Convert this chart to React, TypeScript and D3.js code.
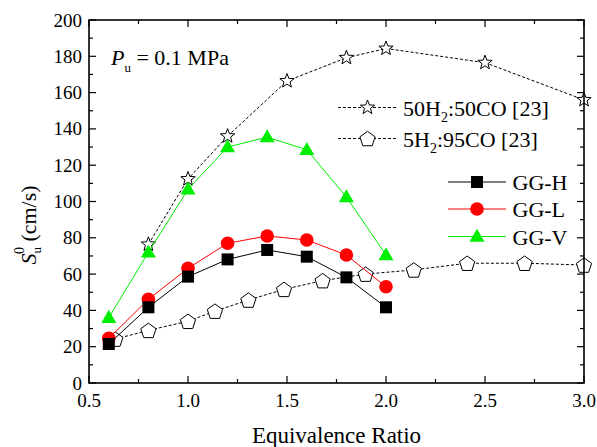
import React from "react";
import * as d3 from "d3";

const xTicks = [0.5, 1.0, 1.5, 2.0, 2.5, 3.0];
const yTicks = [0, 20, 40, 60, 80, 100, 120, 140, 160, 180, 200];

const h50x = [0.8, 1.0, 1.2, 1.5, 1.8, 2.0, 2.5, 3.0];
const h50y = [76.4, 112.4, 136, 166.4, 179.2, 184.3, 176.5, 156];

const h5x = [0.633, 0.8, 1.0, 1.136, 1.305, 1.485, 1.68, 1.897, 2.14, 2.41, 2.7, 3.0];
const h5y = [24.2, 29, 34, 39.6, 45.7, 51.6, 56.4, 60, 62.3, 66, 66, 65];

const ggX = [0.6, 0.8, 1.0, 1.2, 1.4, 1.6, 1.8, 2.0];
const ggH = [21.5, 41.7, 58.6, 68.1, 73.3, 69.6, 58.2, 41.7];
const ggL = [24.6, 46.1, 63.2, 77, 81, 78.8, 70.5, 53];
const ggV = [36, 72, 106.7, 130, 135.5, 128.5, 102.5, 70.5];

const SERIF = "Liberation Serif";

function starPath(cx: number, cy: number, R: number) {
  const r = R * 0.42;
  const pts: string[] = [];
  for (let i = 0; i < 10; i++) {
    const a = -Math.PI / 2 + (i * Math.PI) / 5;
    const rr = i % 2 === 0 ? R : r;
    pts.push(`${cx + rr * Math.cos(a)},${cy + rr * Math.sin(a)}`);
  }
  return "M" + pts.join("L") + "Z";
}
function pentPath(cx: number, cy: number, R: number) {
  const pts: string[] = [];
  for (let i = 0; i < 5; i++) {
    const a = -Math.PI / 2 + (i * 2 * Math.PI) / 5;
    pts.push(`${cx + R * Math.cos(a)},${cy + R * Math.sin(a) + 0.8}`);
  }
  return "M" + pts.join("L") + "Z";
}
function triPath(cx: number, cy: number, w: number) {
  const h = w * 0.87;
  return `M${cx},${cy - h * 0.6}L${cx + w / 2},${cy + h * 0.4}L${cx - w / 2},${cy + h * 0.4}Z`;
}

type Kind = "square" | "circle" | "tri" | "star" | "pent";
function Marker({ kind, cx, cy, color }: { kind: Kind; cx: number; cy: number; color: string }) {
  if (kind === "square") return <rect x={cx - 6} y={cy - 6} width={12} height={12} fill={color} />;
  if (kind === "circle") return <circle cx={cx} cy={cy} r={6.8} fill={color} />;
  if (kind === "tri") return <path d={triPath(cx, cy, 15)} fill={color} />;
  if (kind === "star") return <path d={starPath(cx, cy, 7.5)} fill="white" stroke="black" strokeWidth={1} />;
  return <path d={pentPath(cx, cy, 8)} fill="white" stroke="black" strokeWidth={1} />;
}

function T(props: any) {
  const { children, ...rest } = props;
  return (
    <text {...rest} fontFamily={SERIF} style={{ fontFamily: SERIF }}>
      {children}
    </text>
  );
}

export default function App() {
  const L = 89, R = 584, Tp = 20, B = 383;
  const x = d3.scaleLinear().domain([0.5, 3]).range([L, R]);
  const y = d3.scaleLinear().domain([0, 200]).range([B, Tp]);
  const line = d3.line<[number, number]>().x((d) => x(d[0])).y((d) => y(d[1]));

  const series: { xs: number[]; ys: number[]; color: string; kind: Kind; dash?: string }[] = [
    { xs: h5x, ys: h5y, color: "black", kind: "pent", dash: "3,2" },
    { xs: h50x, ys: h50y, color: "black", kind: "star", dash: "3,2" },
    { xs: ggX, ys: ggV, color: "#00ee00", kind: "tri" },
    { xs: ggX, ys: ggL, color: "#ff0000", kind: "circle" },
    { xs: ggX, ys: ggH, color: "black", kind: "square" },
  ];

  const xMinor = d3.range(0.75, 3.0, 0.5);
  const yMinor = d3.range(10, 200, 20);

  const legend1 = [
    { y: 107.5, kind: "star" as Kind, label: ["50H", "2", ":50CO [23]"] },
    { y: 138.5, kind: "pent" as Kind, label: ["5H", "2", ":95CO [23]"] },
  ];
  const legend2 = [
    { y: 182, kind: "square" as Kind, color: "black", label: "GG-H" },
    { y: 209, kind: "circle" as Kind, color: "#ff0000", label: "GG-L" },
    { y: 236.5, kind: "tri" as Kind, color: "#00ee00", label: "GG-V" },
  ];

  return (
    <svg width={597} height={447} style={{ position: "absolute", left: 0, top: 0, background: "white" }}>
      <rect width={597} height={447} fill="white" />
      {series.map((s, i) => (
        <g key={i}>
          <path
            d={line(s.xs.map((v, j) => [v, s.ys[j]]) as [number, number][]) || ""}
            fill="none"
            stroke={s.color}
            strokeWidth={1}
            strokeDasharray={s.dash}
          />
          {s.xs.map((v, j) => (
            <Marker key={j} kind={s.kind} cx={x(v)} cy={y(s.ys[j])} color={s.color} />
          ))}
        </g>
      ))}
      <rect x={L} y={Tp} width={R - L} height={B - Tp} fill="none" stroke="black" strokeWidth={1.6} />
      {xTicks.map((t) => (
        <g key={"x" + t}>
          <line x1={x(t)} x2={x(t)} y1={B} y2={B - 7} stroke="black" strokeWidth={1.2} />
          <line x1={x(t)} x2={x(t)} y1={Tp} y2={Tp + 7} stroke="black" strokeWidth={1.2} />
          <T x={x(t)} y={407} textAnchor="middle" fontSize={19}>
            {t.toFixed(1)}
          </T>
        </g>
      ))}
      {xMinor.map((t) => (
        <g key={"xm" + t}>
          <line x1={x(t)} x2={x(t)} y1={B} y2={B - 4} stroke="black" strokeWidth={1.2} />
          <line x1={x(t)} x2={x(t)} y1={Tp} y2={Tp + 4} stroke="black" strokeWidth={1.2} />
        </g>
      ))}
      {yTicks.map((t) => (
        <g key={"y" + t}>
          <line x1={L} x2={L + 7} y1={y(t)} y2={y(t)} stroke="black" strokeWidth={1.2} />
          <line x1={R} x2={R - 7} y1={y(t)} y2={y(t)} stroke="black" strokeWidth={1.2} />
          <T x={82} y={y(t) + 6.5} textAnchor="end" fontSize={19}>
            {t}
          </T>
        </g>
      ))}
      {yMinor.map((t) => (
        <g key={"ym" + t}>
          <line x1={L} x2={L + 4} y1={y(t)} y2={y(t)} stroke="black" strokeWidth={1.2} />
          <line x1={R} x2={R - 4} y1={y(t)} y2={y(t)} stroke="black" strokeWidth={1.2} />
        </g>
      ))}
      <T x={336.5} y={443} textAnchor="middle" fontSize={23}>
        Equivalence Ratio
      </T>
      <g transform="translate(36,225) rotate(-90)">
        <T x={0} y={0} textAnchor="middle" fontSize={22}>
          <tspan fontStyle="italic">S</tspan>
          <tspan fontSize={13} dy={5}>u</tspan>
          <tspan fontSize={14} dx={-7} dy={-17}>0</tspan>
          <tspan dy={12}> (cm/s)</tspan>
        </T>
      </g>
      <T x={111} y={65} fontSize={22}>
        <tspan fontStyle="italic">P</tspan>
        <tspan fontSize={13} dy={7}>u</tspan>
        <tspan dy={-7}> = 0.1 MPa</tspan>
      </T>
      {legend1.map((l, i) => (
        <g key={"l1" + i}>
          <line x1={338} x2={396} y1={l.y} y2={l.y} stroke="black" strokeWidth={1} strokeDasharray="3,2" />
          <Marker kind={l.kind} cx={367.5} cy={l.y} color="black" />
          <T x={403} y={l.y + 8} fontSize={22}>
            {l.label[0]}
            <tspan fontSize={14} dy={6}>{l.label[1]}</tspan>
            <tspan dy={-6}>{l.label[2]}</tspan>
          </T>
        </g>
      ))}
      {legend2.map((l, i) => (
        <g key={"l2" + i}>
          <line x1={448} x2={506} y1={l.y} y2={l.y} stroke={l.color} strokeWidth={1} />
          <Marker kind={l.kind} cx={477} cy={l.y} color={l.color} />
          <T x={512.5} y={l.y + 8} fontSize={22}>
            {l.label}
          </T>
        </g>
      ))}
    </svg>
  );
}
